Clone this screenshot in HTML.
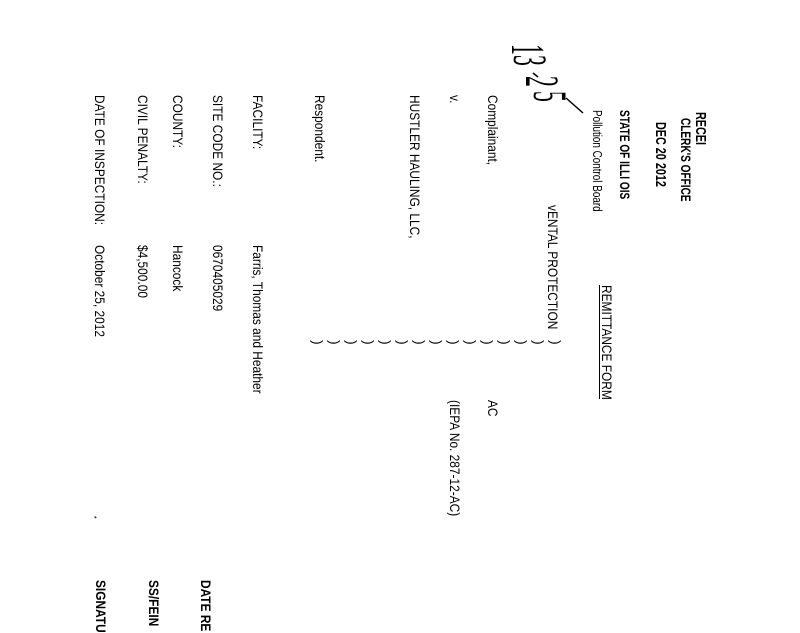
<!DOCTYPE html>
<html><head><meta charset="utf-8"><style>
html,body{margin:0;padding:0;background:#fff;}
body{width:800px;height:618px;position:relative;overflow:hidden;font-family:"Liberation Sans",Arial,sans-serif;color:#000;}
.t{position:absolute;white-space:nowrap;font-size:14px;line-height:14px;transform-origin:0 0;transform:rotate(90deg) scale(0.85,1);}
.b{font-weight:bold;}
.s{transform:rotate(90deg) scale(0.72,1);}
.p{position:absolute;font-size:14px;line-height:14px;transform-origin:0 0;transform:rotate(90deg);}
</style></head><body>
<!-- stamp -->
<div class="t b s" style="left:707px;top:112px;font-size:15px;">RECEI</div>
<div class="t b s" style="left:693px;top:118px;">CLERK'S OFFICE</div>
<div class="t b s" style="left:667px;top:122px;font-size:15px;">DEC 20 2012</div>
<div class="t b s" style="left:632px;top:110px;">STATE OF ILLI OIS</div>
<div class="t s" style="left:604px;top:110px;font-size:13px;transform:rotate(90deg) scale(0.76,1);">Pollution Control Board</div>
<div class="t" style="left:614px;top:285px;">REMITTANCE FORM</div>
<div style="position:absolute;left:599px;top:285px;width:1px;height:114px;background:#000;"></div>
<!-- handwriting -->
<svg style="position:absolute;left:0;top:0" width="800" height="618">
<g font-family="Liberation Serif, serif" font-size="48" fill="#000">
<text transform="translate(512,44) rotate(90) scale(0.45,1)">1</text>
<text transform="translate(514,55) rotate(90) scale(0.45,1)">3</text>
<text transform="translate(526,76) rotate(90) scale(0.45,1)">2</text>
<text transform="translate(534,91) rotate(90) scale(0.45,1)">5</text>
</g>
<line x1="533" y1="73" x2="538" y2="77" stroke="#000" stroke-width="1.5"/>
<line x1="566" y1="98" x2="583" y2="113" stroke="#000" stroke-width="1.5"/>
</svg>
<div class="t" style="left:560px;top:205px;">vENTAL PROTECTION</div>
<div class="t" style="left:500px;top:95px;">Complainant,</div>
<div class="t" style="left:500px;top:400px;">AC</div>
<div class="t" style="left:462px;top:95px;">v.</div>
<div class="t" style="left:462px;top:400px;">(IEPA No. 287-12-AC)</div>
<div class="t" style="left:422px;top:95px;">HUSTLER HAULING, LLC,</div>
<div class="t" style="left:327px;top:95px;">Respondent.</div>
<!-- parentheses -->
<div class="p" style="left:563px;top:340px;">)</div>
<div class="p" style="left:546px;top:340px;">)</div>
<div class="p" style="left:529px;top:340px;">)</div>
<div class="p" style="left:512px;top:340px;">)</div>
<div class="p" style="left:495px;top:340px;">)</div>
<div class="p" style="left:478px;top:340px;">)</div>
<div class="p" style="left:461px;top:340px;">)</div>
<div class="p" style="left:444px;top:340px;">)</div>
<div class="p" style="left:427px;top:340px;">)</div>
<div class="p" style="left:410px;top:340px;">)</div>
<div class="p" style="left:393px;top:340px;">)</div>
<div class="p" style="left:376px;top:340px;">)</div>
<div class="p" style="left:359px;top:340px;">)</div>
<div class="p" style="left:342px;top:340px;">)</div>
<div class="p" style="left:325px;top:340px;">)</div>
<!-- fields -->
<div class="t" style="left:265px;top:95px;">FACILITY:</div>
<div class="t" style="left:265px;top:245px;">Farris, Thomas and Heather</div>
<div class="t" style="left:225px;top:95px;">SITE CODE NO.:</div>
<div class="t" style="left:225px;top:245px;">0670405029</div>
<div class="t" style="left:185px;top:95px;">COUNTY:</div>
<div class="t" style="left:185px;top:245px;">Hancock</div>
<div class="t" style="left:150px;top:95px;">CIVIL PENALTY:</div>
<div class="t" style="left:150px;top:245px;">$4,500.00</div>
<div class="t" style="left:107px;top:95px;">DATE OF INSPECTION:</div>
<div class="t" style="left:107px;top:245px;">October 25, 2012</div>
<div class="t" style="left:100px;top:516px;font-size:8px;">*</div>
<div class="t b" style="left:213px;top:580px;">DATE RE</div>
<div class="t b" style="left:161px;top:580px;">SS/FEIN</div>
<div class="t b" style="left:108px;top:580px;">SIGNATU</div>
</body></html>
